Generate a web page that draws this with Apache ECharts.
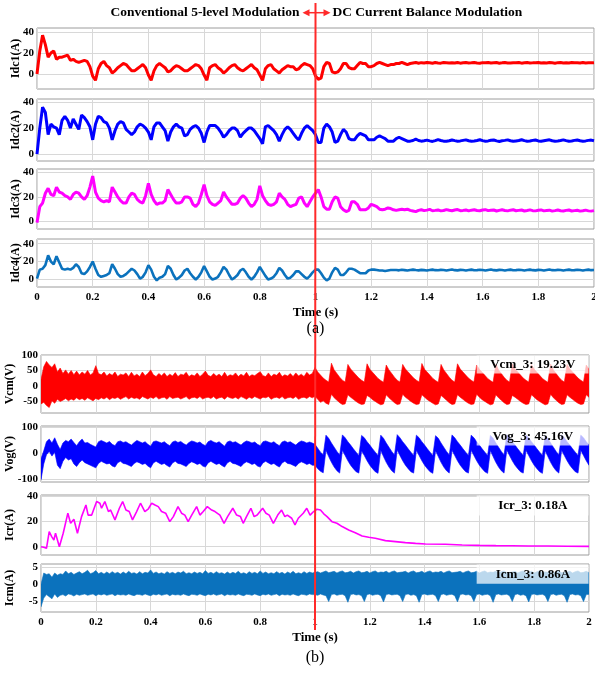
<!DOCTYPE html>
<html>
<head>
<meta charset="utf-8">
<script src="https://cdn.jsdelivr.net/npm/echarts@6/dist/echarts.min.js"></script>
<style>
  html, body { margin: 0; padding: 0; background: #fff; }
  #chart { width: 595px; height: 675px; }
</style>
</head>
<body>
<div id="chart"></div>
<script>
// Sample spacing (s) of the uniformly sampled waveforms below
const dt = 0.01;

// ---- (a) DC-side currents, one value every 10 ms from 0 to 2 s ----
const idc1 = [
  0,22,37,28,16,20,22,14,16,16,
  17,18,13,14,12,11,12,13,12,7,
  -2,-6,5,10,12,8,6,1,3,6,
  8,10,9,6,3,3,5,7,9,6,
  -1,-6,3,8,10,8,6,2,3,6,
  8,7,5,3,3,5,7,9,8,5,
  -1,-6,6,8,9,6,4,1,3,6,
  8,9,6,4,3,5,7,9,6,4,
  -1,-6,5,8,9,5,3,1,4,6,
  8,7,7,4,5,8,10,9,8,5,
  -2,-5,-4,7,11,10,2,1,2,5,
  10,10,6,5,5,8,11,10,10,7,
  7,8,10,11,10,9,8,9,9,10,
  10,11,10,9,10,10.5,11,10.2,10.8,10.4,
  11,10.6,10.2,10.9,10.5,10.3,11,10.7,10.4,10.8,
  10.5,11,10.3,10.7,10.9,10.4,10.6,11,10.5,10.2,
  10.8,10.6,11,10.4,10.7,10.9,10.3,10.6,11,10.5,
  10.4,10.8,10.6,11,10.3,10.7,10.9,10.5,10.6,10.8,
  11,10.4,10.7,10.5,10.9,10.6,10.3,10.8,11,10.5,
  10.7,10.4,10.9,10.6,10.8,10.5,11,10.4,10.7,10.6,
  10.8
];
const idc2 = [
  0,20,36,32,15,23,21,20,15,26,
  29,26,20,27,23,19,30,28,25,21,
  11,23,29,28,25,24,20,11,18,23,
  25,24,19,17,15,17,21,23,22,20,
  17,11,21,24,24,21,18,10,17,21,
  23,21,20,14,15,19,21,22,20,16,
  9,17,22,22,22,20,17,13,15,18,
  20,20,18,13,16,18,20,20,18,15,
  12,8,21,22,20,18,15,10,15,19,
  21,19,16,13,11,16,20,22,20,18,
  15,9,9,20,23,21,17,9,10,15,
  19,17,12,11,11,14,16,15,14,11,
  11,11,13,14,13,12,10,10,10,12,
  13,12,11,10,10,10.5,11.5,10.5,10,10.3,
  10.8,10.2,9.8,10.4,11.2,10.5,10,9.9,10.3,10.9,
  10.4,10,10.2,10.6,11,10.3,9.9,10.1,10.5,11.1,
  10.4,10,10.2,10.7,10.9,10.2,9.8,10.3,10.6,11,
  10.3,9.9,10.2,10.5,11.1,10.4,10,10.1,10.6,10.9,
  10.2,9.9,10.3,10.7,11,10.3,10,10.2,10.5,11,
  10.4,9.9,10.1,10.6,10.9,10.3,10,10.2,10.6,10.8,
  10.3
];
const idc3 = [
  -1,12,15,23,27,22,21,28,24,23,
  21,20,18,22,24,23,20,18,21,28,
  37,24,19,17,16,17,16,28,24,20,
  17,15,15,20,23,22,18,16,15,21,
  31,22,17,14,15,15,17,26,22,18,
  15,15,16,20,20,19,14,12,15,22,
  30,21,16,14,13,15,17,24,20,17,
  14,14,15,19,21,19,15,12,14,18,
  29,21,17,14,13,14,16,23,20,18,
  14,12,13,14,19,20,15,12,16,20,
  23,26,20,12,10,10,16,20,19,12,
  9.5,8,9,16,16,14,9.5,9.5,9.5,11,
  14,13,12,10,9.5,10,11,10.5,9.5,9,
  9.5,10,9.5,10,9,8.5,8,9,9.5,8.8,
  9.2,9.8,8.7,9,9.4,8.6,8.9,9.6,9.1,8.7,
  9.3,9.7,8.8,9,9.4,8.6,9.2,9.5,8.9,8.7,
  9.3,9.6,8.8,9.1,9.3,8.5,9,9.5,8.9,8.6,
  9.2,9.5,8.7,9,9.3,8.5,8.9,9.4,8.8,8.6,
  9.1,9.4,8.6,8.9,9.2,8.4,8.8,9.3,8.7,8.5,
  9,9.3,8.5,8.8,9.1,8.4,8.7,9.2,8.6,8.4,
  8.8
];
const idc4 = [
  1,11,12,16,27,20,17,26,19,12,
  11,12,11,13,17,14,7,6,9,14,
  20,12,5,3,4,5,7,17,12,6,
  3,4,6,9,12,10,6,1,3,8,
  16,11,3,-1,2,3,6,15,12,5,
  0,2,5,10,12,7,3,0,3,8,
  15,9,3,0,1,3,8,14,11,5,
  0,2,5,10,12,8,3,0,3,8,
  14,9,4,0,1,3,7,13,10,5,
  1,2,5,9,9,6,3,1,4,8,
  11,11,7,2,-1,1,8,13,11,5,
  5,8,12,12,11,9,7,7,7,10,
  11,11,10.5,10,10,9.5,10,10.5,10.6,10.5,
  10.2,10.8,10.4,10,10.6,11,10.5,10.2,10.7,10.4,
  10.1,10.6,11,10.4,10.3,10.7,10.5,10,10.6,11.1,
  10.4,10.2,10.7,10.5,10.1,10.6,11,10.3,10.4,10.8,
  10.5,10,10.6,11.1,10.4,10.2,10.7,10.5,10.1,10.6,
  11,10.3,10.4,10.8,10.5,10.1,10.6,11,10.4,10.2,
  10.7,10.5,10,10.6,11.1,10.4,10.3,10.7,10.5,10.1,
  10.6,11,10.3,10.4,10.8,10.5,10.1,10.6,11,10.4,
  10.5
];

// ---- (b) switching-noise waveforms: upper / lower envelope every 10 ms ----
const vcmHi = [
  20,62,80,68,60,72,45,58,40,52,
  38,50,36,48,35,45,38,50,35,42,
  66,40,36,45,32,40,34,45,30,38,
  35,42,30,44,32,38,30,45,33,40,
  52,36,30,40,33,42,30,38,32,43,
  30,38,35,44,30,36,32,42,30,38,
  48,34,30,40,32,38,30,44,30,36,
  33,42,30,38,32,44,30,36,33,40,
  46,33,30,42,30,38,34,44,30,36,
  32,40,30,42,32,38,30,44,35,40,
  60,45,35,25,18,12,
  74,52,40,28,18,12,
  70,55,45,35,25,18,12,
  72,54,44,34,24,17,11,
  68,52,40,28,18,12,
  70,55,45,35,25,18,12,
  73,54,44,34,24,17,11,
  70,52,40,28,18,12,
  72,55,45,35,25,18,12,
  68,54,44,34,24,17,11,
  71,52,40,28,18,12,
  72,55,45,35,25,18,12,
  69,54,44,34,24,17,11,
  71,52,40,28,18,12,
  70,55,45,35,25,18,12,
  68,54
];
const vcmLo = [
  -60,-55,-65,-72,-50,-58,-45,-52,-48,-42,
  -50,-44,-48,-40,-46,-42,-48,-40,-45,-50,
  -42,-46,-40,-44,-38,-46,-40,-42,-38,-45,
  -40,-36,-44,-38,-42,-40,-45,-36,-40,-44,
  -38,-42,-36,-44,-40,-38,-45,-36,-42,-40,
  -38,-44,-40,-36,-45,-40,-38,-42,-36,-44,
  -40,-38,-42,-36,-44,-40,-38,-45,-36,-40,
  -42,-38,-44,-36,-40,-45,-38,-42,-36,-40,
  -44,-38,-40,-36,-45,-40,-38,-42,-36,-44,
  -40,-38,-42,-36,-45,-40,-38,-42,-36,-40,
  -35,-45,-55,-50,-58,-62,
  -28,-40,-48,-56,-62,-60,
  -30,-38,-45,-52,-58,-62,-60,
  -32,-38,-46,-52,-58,-63,-60,
  -30,-40,-48,-56,-62,-60,
  -28,-38,-45,-52,-58,-62,-60,
  -30,-38,-46,-52,-58,-63,-60,
  -32,-40,-48,-56,-62,-60,
  -30,-38,-45,-52,-58,-62,-60,
  -28,-38,-46,-52,-58,-63,-60,
  -30,-40,-48,-56,-62,-60,
  -32,-38,-45,-52,-58,-62,-60,
  -30,-38,-46,-52,-58,-63,-60,
  -28,-40,-48,-56,-62,-60,
  -30,-38,-45,-52,-58,-62,-60,
  -30,-38
];
const vogHi = [
  -20,10,45,55,40,60,35,15,40,50,
  45,55,42,30,45,55,40,42,35,30,
  25,45,50,45,40,46,35,30,45,48,
  42,45,38,32,42,50,45,40,45,35,
  28,45,48,44,40,45,36,30,44,48,
  42,46,38,32,42,48,45,40,44,35,
  30,45,50,44,40,45,36,28,44,48,
  42,45,38,32,42,48,45,40,44,35,
  30,45,48,44,40,45,36,30,44,48,
  42,45,38,32,42,48,45,40,44,40,
  35,20,5,-5,
  70,58,40,24,8,-6,
  71,60,45,32,18,5,-8,
  69,60,45,32,18,5,-8,
  70,58,40,24,8,-6,
  72,60,45,32,18,5,-8,
  70,60,45,32,18,5,-8,
  68,58,40,24,8,-6,
  71,60,45,32,18,5,-8,
  70,60,45,32,18,5,-8,
  69,58,40,24,8,-6,
  72,60,45,32,18,5,-8,
  70,60,45,32,18,5,-8,
  68,58,40,24,8,-6,
  71,60,45,32,18,5,-8,
  70,60,45,32
];
const vogLo = [
  -100,-40,-5,8,-10,5,-45,-58,-30,-15,
  -25,-20,-40,-50,-35,-25,-35,-40,-45,-50,
  -55,-38,-30,-35,-40,-38,-48,-52,-35,-30,
  -38,-40,-45,-50,-38,-32,-36,-42,-38,-48,
  -55,-36,-30,-36,-42,-38,-46,-52,-36,-30,
  -38,-40,-45,-50,-38,-32,-36,-42,-38,-48,
  -52,-36,-30,-36,-42,-38,-46,-52,-36,-30,
  -38,-40,-45,-50,-38,-32,-36,-42,-38,-48,
  -52,-36,-30,-36,-42,-38,-46,-52,-36,-30,
  -38,-40,-45,-50,-38,-32,-36,-42,-38,-45,
  -45,-58,-68,-74,
  12,-12,-34,-52,-66,-75,
  12,-8,-28,-45,-58,-70,-75,
  10,-8,-28,-45,-58,-70,-76,
  12,-12,-34,-52,-66,-75,
  13,-8,-28,-45,-58,-70,-75,
  12,-8,-28,-45,-58,-70,-76,
  10,-12,-34,-52,-66,-75,
  12,-8,-28,-45,-58,-70,-75,
  12,-8,-28,-45,-58,-70,-76,
  11,-12,-34,-52,-66,-75,
  13,-8,-28,-45,-58,-70,-75,
  12,-8,-28,-45,-58,-70,-76,
  10,-12,-34,-52,-66,-75,
  12,-8,-28,-45,-58,-70,-75,
  12,-8,-28,-45
];
const icmHi = [
  0,3.2,2.8,3,2,3.2,2.6,3,2.8,3.8,
  3,3.4,2.8,3.2,3.6,3,3.4,4,3,3.3,
  3.9,3,3.4,2.9,3.5,3,3.6,3.1,3.4,2.9,
  3.5,3,3.7,3.1,3.3,2.9,3.6,3,3.4,3.2,
  4.1,3.1,3.5,3,3.3,2.9,3.6,3.1,3.4,3,
  3.5,3.2,3.7,3,3.3,3,3.5,3.1,3.4,3,
  3.9,3.1,3.4,3,3.6,3.1,3.3,2.9,3.5,3,
  3.4,3.1,3.7,3,3.3,2.9,3.6,3.1,3.4,3,
  3.8,3.1,3.5,3,3.3,3,3.6,3.1,3.4,2.9,
  3.5,3.1,3.7,3,3.3,3,3.6,3.1,3.5,3.2,
  3.4,3.6,3.2,3.5,3.8,3.3,3.5,3.7,3.2,3.6,
  3.8,3.3,3.4,3.7,3.2,3.6,3.8,3.3,3.4,3.7,
  3.2,3.6,3.8,3.3,3.5,3.4,3.7,3.2,3.6,3.8,
  3.3,3.4,3.5,3.7,3.2,3.6,3.8,3.3,3.4,3.7,
  3.2,3.6,3.8,3.3,3.5,3.4,3.7,3.2,3.6,3.8,
  3.3,3.4,3.5,3.7,3.2,3.6,3.8,3.3,3.4,3.7,
  3.2,3.6,3.8,3.3,3.5,3.4,3.7,3.2,3.6,3.8,
  3.3,3.4,3.5,3.7,3.2,3.6,3.8,3.3,3.4,3.7,
  3.2,3.6,3.8,3.3,3.5,3.4,3.7,3.2,3.6,3.8,
  3.3,3.4,3.5,3.7,3.2,3.6,3.8,3.3,3.4,3.7,
  3.3
];
const icmLo = [
  -6.5,-4,-3,-3.6,-4.2,-2.8,-3.8,-3.2,-3,-3.4,
  -2.8,-3,-3.4,-2.9,-3.2,-3,-2.8,-3.2,-3,-2.8,
  -3.3,-2.9,-3.1,-2.8,-3.2,-3,-2.8,-3.3,-2.9,-3.1,
  -3,-3.2,-2.8,-3.1,-3.3,-2.9,-3,-3.2,-2.8,-3.1,
  -3.3,-2.9,-3.1,-2.8,-3.2,-3,-2.8,-3.3,-2.9,-3.1,
  -3,-3.2,-2.8,-3.1,-3.3,-2.9,-3,-3.2,-2.8,-3.1,
  -3.3,-2.9,-3.1,-2.8,-3.2,-3,-2.8,-3.3,-2.9,-3.1,
  -3,-3.2,-2.8,-3.1,-3.3,-2.9,-3,-3.2,-2.8,-3.1,
  -3.3,-2.9,-3.1,-2.8,-3.2,-3,-2.8,-3.3,-2.9,-3.1,
  -3,-3.2,-2.8,-3.1,-3.3,-2.9,-3,-3.2,-2.8,-3,
  -3,-3.2,-2.8,-3.1,-3.3,-5,-3,-2.8,-3.2,-3,
  -2.9,-3.3,-5.2,-3,-2.8,-3.1,-3,-3.3,-5,-3,
  -2.8,-3.2,-3,-2.9,-3.3,-5.1,-3,-2.8,-3.1,-3,
  -2.9,-3.3,-5,-3,-2.8,-3.2,-3,-3.3,-5.2,-3,
  -2.8,-3.1,-3,-2.9,-3.3,-5,-3,-2.8,-3.2,-3,
  -2.9,-3.3,-5.1,-3,-2.8,-3.1,-3,-3.3,-5,-3,
  -2.8,-3.2,-3,-2.9,-3.3,-5.2,-3,-2.8,-3.1,-3,
  -2.9,-3.3,-5,-3,-2.8,-3.2,-3,-3.3,-5.1,-3,
  -2.8,-3.1,-3,-2.9,-3.3,-5,-3,-2.8,-3.2,-3,
  -2.9,-3.3,-5.2,-3,-2.8,-3.1,-3,-3.3,-5,-3,
  -2.9
];

// ---- circulating current: vertices (time in s, current in A) ----
const icrT = [0,0.01,0.02,0.03,0.039,0.047,0.053,0.067,0.081,0.098,0.108,0.12,0.133,0.148,0.164,0.172,0.185,
  0.203,0.215,0.221,0.233,0.246,0.254,0.27,0.286,0.298,0.31,0.322,0.334,0.349,0.363,0.379,0.392,0.404,0.416,
  0.428,0.44,0.455,0.47,0.483,0.5,0.513,0.525,0.537,0.55,0.568,0.58,0.592,0.607,0.623,0.635,0.653,0.668,
  0.681,0.7,0.714,0.728,0.738,0.75,0.766,0.778,0.789,0.809,0.821,0.833,0.848,0.864,0.878,0.89,0.899,0.915,
  0.927,0.939,0.957,0.97,0.982,0.995,1.007,1.02,1.032,1.044,1.062,1.08,1.099,1.123,1.147,1.172,1.196,1.22,
  1.257,1.294,1.33,1.367,1.403,1.476,1.537,1.6,1.66,1.72,1.78,1.85,1.92,2.0];
const icrV = [0,-0.5,-1.3,12,8,5.3,10.6,0,10.6,26.5,18.5,21.7,10.6,23.8,33,25,25,
  35.7,34.4,30.4,35.7,27.8,29,21.2,30.4,35.7,29,27.8,21.2,27.8,34.4,27.8,30,34.4,33,
  31.7,27.8,26.5,19.8,23.8,31.7,26.5,25,19.8,25,31.7,25,27.8,31.7,29,27.8,25,18.5,
  23.8,30.4,25,23.8,18.5,23.8,30.4,23.8,25,30.4,26.5,25,18.5,25,29,23.8,25,22.5,
  17.2,22.5,26.5,30.4,25,27.8,29.6,29,26,23.8,19.8,18.5,15.9,13.2,11,8.5,7.4,6.6,
  4.8,4,3.2,2.6,2.1,1.9,1.3,1.0,0.8,0.7,0.5,0.5,0.3,0.2];

// ---- tick values and annotation texts ----
const timeTickStep = 0.2;
const ticksIdc = [0, 20, 40];
const ticksVcm = [-50, 0, 50, 100];
const ticksVog = [-100, 0, 100];
const ticksIcr = [0, 20, 40];
const ticksIcm = [-5, 0, 5];
const titleLeft = 'Conventional 5-level Modulation';
const titleRight = 'DC Current Balance Modulation';
const notes = ['Vcm_3: 19.23V', 'Vog_3: 45.16V', 'Icr_3: 0.18A', 'Icm_3: 0.86A'];

const FONT = '"Liberation Serif", "Times New Roman", serif';
const RED = '#ff0000', BLUE = '#0000ff', MAGENTA = '#ff00ff', STEEL = '#0b72bd';

// panel layout (pixels) and axis ranges
const panels = [
  { name: 'Idc1(A)', left: 37, width: 557, top: 28,  height: 61, min: -14.3, max: 43.8, ticks: ticksIdc, gap: 15 },
  { name: 'Idc2(A)', left: 37, width: 557, top: 99,  height: 62, min: -5.2,  max: 42.3, ticks: ticksIdc, gap: 15 },
  { name: 'Idc3(A)', left: 37, width: 557, top: 169, height: 60, min: -6.2,  max: 42.8, ticks: ticksIdc, gap: 15 },
  { name: 'Idc4(A)', left: 37, width: 557, top: 239, height: 48, min: -8.4,  max: 45.2, ticks: ticksIdc, gap: 15, bottom: true },
  { name: 'Vcm(V)',  left: 41, width: 548, top: 355, height: 58, min: -90,   max: 101,  ticks: ticksVcm, gap: 25 },
  { name: 'Vog(V)',  left: 41, width: 548, top: 426, height: 56, min: -109,  max: 105,  ticks: ticksVog, gap: 25 },
  { name: 'Icr(A)',  left: 41, width: 548, top: 495, height: 60, min: -6.6,  max: 40.9, ticks: ticksIcr, gap: 25 },
  { name: 'Icm(A)',  left: 41, width: 548, top: 564, height: 48, min: -8,    max: 5.8,  ticks: ticksIcm, gap: 25, bottom: true }
];

const timeOf = i => Math.round(i * dt * 100) / 100;
const toPairs = arr => arr.map((v, i) => [timeOf(i), v]);
const gridColor = '#d8d8d8';

const grids = panels.map(p => ({
  left: p.left, top: p.top, width: p.width, height: p.height,
  show: true, borderColor: '#9c9c9c', borderWidth: 1, backgroundColor: '#fff',
  containLabel: false, outerBoundsMode: 'none'
}));

const xAxes = panels.map((p, i) => ({
  gridIndex: i, type: 'value', min: 0, max: 2, interval: timeTickStep,
  axisLine: { show: false }, axisTick: { show: false },
  axisLabel: {
    show: !!p.bottom, margin: 5, color: '#000', fontFamily: FONT, fontWeight: 'bold', fontSize: 11,
    formatter: v => String(Math.round(v * 10) / 10)
  },
  splitLine: { show: true, lineStyle: { color: gridColor, width: 1 } },
  name: p.bottom ? 'Time (s)' : '', nameLocation: 'middle', nameGap: 19,
  nameTextStyle: { color: '#000', fontFamily: FONT, fontWeight: 'bold', fontSize: 13 }
}));

const yAxes = panels.map((p, i) => ({
  gridIndex: i, type: 'value', min: p.min, max: p.max,
  name: p.name, nameLocation: 'middle', nameRotate: 90, nameGap: p.gap, nameMoveOverlap: false,
  nameTextStyle: { color: '#000', fontFamily: FONT, fontWeight: 'bold', fontSize: 12 },
  axisLine: { show: false },
  axisTick: { show: false, customValues: p.ticks },
  axisLabel: { customValues: p.ticks, margin: 3, color: '#000', fontFamily: FONT, fontWeight: 'bold', fontSize: 11 },
  splitLine: { show: true, lineStyle: { color: gridColor, width: 1 } }
}));

function lineSeries(idx, data, color, width) {
  return {
    type: 'line', xAxisIndex: idx, yAxisIndex: idx, data: data,
    showSymbol: false, symbol: 'none', animation: false, silent: true, clip: true,
    lineStyle: { color: color, width: width }, z: 3
  };
}

// a filled band between the lower and the upper envelope, drawn as one polygon
function bandSeries(idx, lo, hi, color) {
  return {
    type: 'custom', coordinateSystem: 'cartesian2d', xAxisIndex: idx, yAxisIndex: idx,
    data: hi.map((h, k) => [timeOf(k), lo[k], h]),
    encode: { x: 0, y: [1, 2] },
    clip: true, silent: true, animation: false, z: 3,
    renderItem: (params, api) => {
      if (params.dataIndex !== 0) return null;
      const pts = [];
      for (let k = 0; k < hi.length; k++) pts.push(api.coord([timeOf(k), hi[k]]));
      for (let k = lo.length - 1; k >= 0; k--) pts.push(api.coord([timeOf(k), lo[k]]));
      return {
        type: 'polygon', shape: { points: pts },
        style: { fill: color, stroke: color, lineWidth: 0.6 }
      };
    }
  };
}

const series = [
  lineSeries(0, toPairs(idc1), RED, 3),
  lineSeries(1, toPairs(idc2), BLUE, 3),
  lineSeries(2, toPairs(idc3), MAGENTA, 3),
  lineSeries(3, toPairs(idc4), STEEL, 2.6),
  bandSeries(4, vcmLo, vcmHi, RED),
  bandSeries(5, vogLo, vogHi, BLUE),
  lineSeries(6, icrT.map((t, k) => [t, icrV[k]]), MAGENTA, 1.6),
  bandSeries(7, icmLo, icmHi, STEEL)
];

const chart = echarts.init(document.getElementById('chart'), null, { renderer: 'canvas' });
chart.setOption({
  animation: false,
  backgroundColor: '#fff',
  grid: grids, xAxis: xAxes, yAxis: yAxes, series: series
});

// overlays positioned through the axes' own scales
const pt = (g, x, y) => chart.convertToPixel({ gridIndex: g }, [x, y]);
const xSwitch = pt(0, 1, 0)[0];
const xSwitchB = pt(4, 1, 0)[0];
const textStyle = (text, x, y, font, align) => ({
  text: text, x: x, y: y, font: font, fill: '#000',
  align: align, textAlign: align, verticalAlign: 'middle', textVerticalAlign: 'middle'
});

const boxes = [
  { g: 4, yTop: 101, yBot: 42 },
  { g: 5, yTop: 105, yBot: 32 },
  { g: 6, yTop: 40.9, yBot: 25 },
  { g: 7, yTop: 5.8, yBot: 0.3 }
];
const boxElems = [];
boxes.forEach((b, k) => {
  const a = pt(b.g, 1.59, b.yTop), c = pt(b.g, 2, b.yBot);
  boxElems.push({
    type: 'rect', z: 50, silent: true,
    shape: { x: a[0], y: a[1] + 0.5, width: c[0] - a[0] - 0.5, height: c[1] - a[1] },
    style: { fill: 'rgba(255,255,255,0.72)' }
  });
  boxElems.push({
    type: 'text', z: 51, silent: true,
    style: textStyle(notes[k], (a[0] + c[0]) / 2, (a[1] + c[1]) / 2 + 1, 'bold 13px ' + FONT, 'center')
  });
});

const ay = 12.7;
chart.setOption({
  graphic: [
    ...boxElems,
    { type: 'line', z: 60, silent: true,
      shape: { x1: xSwitch, y1: 3, x2: xSwitchB, y2: 630 },
      style: { stroke: '#ff2a2a', lineWidth: 2 } },
    { type: 'line', z: 60, silent: true,
      shape: { x1: xSwitch - 10, y1: ay, x2: xSwitch + 12, y2: ay },
      style: { stroke: '#ff2a2a', lineWidth: 1.5 } },
    { type: 'polygon', z: 60, silent: true,
      shape: { points: [[xSwitch - 13, ay], [xSwitch - 6, ay - 3.5], [xSwitch - 6, ay + 3.5]] },
      style: { fill: '#ff2a2a' } },
    { type: 'polygon', z: 60, silent: true,
      shape: { points: [[xSwitch + 15, ay], [xSwitch + 8, ay - 3.5], [xSwitch + 8, ay + 3.5]] },
      style: { fill: '#ff2a2a' } },
    { type: 'text', z: 60, silent: true,
      style: textStyle(titleLeft, xSwitch - 16, 13, 'bold 13.5px ' + FONT, 'right') },
    { type: 'text', z: 60, silent: true,
      style: textStyle(titleRight, xSwitch + 17, 13, 'bold 13.5px ' + FONT, 'left') },
    { type: 'text', z: 60, silent: true,
      style: textStyle('(a)', xSwitch, 329, '16px ' + FONT, 'center') },
    { type: 'text', z: 60, silent: true,
      style: textStyle('(b)', xSwitchB, 658, '16px ' + FONT, 'center') }
  ]
});
</script>
</body>
</html>
